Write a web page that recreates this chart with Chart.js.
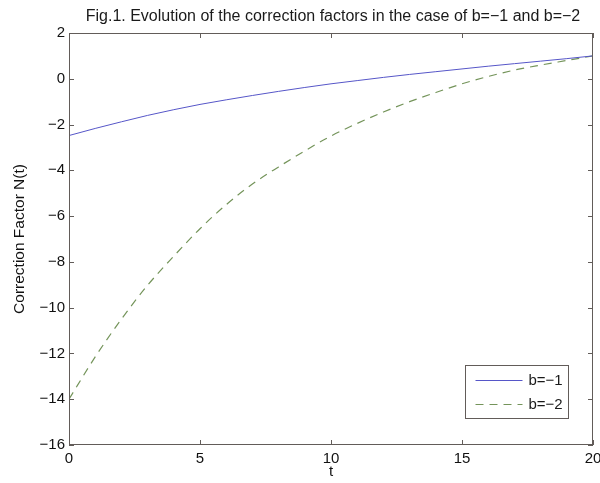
<!DOCTYPE html>
<html>
<head>
<meta charset="utf-8">
<script src="https://cdn.jsdelivr.net/npm/chart.js@4.4.1/dist/chart.umd.min.js"></script>
<style>
  html, body { margin: 0; padding: 0; background: #ffffff; }
  #wrap { width: 600px; height: 483px; }
</style>
</head>
<body>
<div id="wrap"><canvas id="c" width="600" height="483"></canvas></div>
<script>
// Time axis and correction factor N(t) for the two cases
const tValues = [0, 1, 2, 3, 4, 5, 6, 7, 8, 9, 10, 11, 12, 13, 14, 15, 16, 17, 18, 19, 20];
const factorB1 = [-2.48, -2.17, -1.88, -1.60, -1.35, -1.12, -0.92, -0.73, -0.55, -0.38, -0.22,
                  -0.08, 0.06, 0.19, 0.31, 0.43, 0.55, 0.66, 0.77, 0.88, 1.00];
const factorB2 = [-14.0, -12.15, -10.5, -9.02, -7.75, -6.55, -5.5, -4.6, -3.85, -3.15, -2.5,
                  -1.95, -1.45, -1.0, -0.6, -0.22, 0.1, 0.38, 0.6, 0.8, 1.0];
const seriesNames = ['b=\u22121', 'b=\u22122'];
const xTicks = [0, 5, 10, 15, 20];
const yTicks = [-16, -14, -12, -10, -8, -6, -4, -2, 0, 2];
const titleText = 'Fig.1. Evolution of the correction factors in the case of b=\u22121 and b=\u22122';
const xTitle = 't';
const yTitle = 'Correction Factor N(t)';

const FONT = '"Liberation Sans", Arial, Helvetica, sans-serif';
const FRAME = '#625c59';
const BLUE = '#5656c8';
const GREEN = '#74945a';

const fmt = v => (v < 0 ? '\u2212' + Math.abs(v) : String(v));
const toPoints = ys => tValues.map((t, i) => ({ x: t, y: ys[i] }));

// Box frame, inward ticks on all four sides, title and boxed legend
const frameAndLegend = {
  id: 'frameAndLegend',
  afterDatasetsDraw(chart) {
    const { ctx, chartArea: a, scales: { x, y } } = chart;
    ctx.save();
    ctx.strokeStyle = FRAME;
    ctx.lineWidth = 1;
    ctx.strokeRect(Math.round(a.left) + 0.5, Math.round(a.top) + 0.5,
                   Math.round(a.right - a.left) - 1, Math.round(a.bottom - a.top) - 1);
    ctx.beginPath();
    yTicks.forEach(v => {
      const py = Math.round(y.getPixelForValue(v)) + 0.5;
      ctx.moveTo(a.left, py); ctx.lineTo(a.left + 5, py);
      ctx.moveTo(a.right, py); ctx.lineTo(a.right - 5, py);
    });
    xTicks.forEach(v => {
      const px = Math.round(x.getPixelForValue(v)) + 0.5;
      ctx.moveTo(px, a.bottom); ctx.lineTo(px, a.bottom - 5);
      ctx.moveTo(px, a.top); ctx.lineTo(px, a.top + 5);
    });
    ctx.stroke();

    // title
    ctx.fillStyle = '#1a1a1a';
    ctx.font = '16px ' + FONT;
    ctx.textAlign = 'center';
    ctx.textBaseline = 'middle';
    ctx.fillText(titleText, (a.left + a.right) / 2 + 2, 17);

    // legend
    const bw = 103, bh = 53;
    const bx = Math.round(a.right - 25 - bw) + 0.5;
    const by = Math.round(a.bottom - 27 - bh) + 0.5;
    ctx.fillStyle = '#ffffff';
    ctx.fillRect(bx, by, bw, bh);
    ctx.strokeStyle = FRAME;
    ctx.strokeRect(bx, by, bw, bh);
    chart.data.datasets.forEach((ds, i) => {
      const ly = Math.round(by + 14 + i * 24) + 0.5;
      ctx.beginPath();
      ctx.strokeStyle = ds.borderColor;
      ctx.setLineDash(ds.borderDash || []);
      ctx.moveTo(bx + 10, ly);
      ctx.lineTo(bx + 57, ly);
      ctx.stroke();
      ctx.setLineDash([]);
      ctx.fillStyle = '#1a1a1a';
      ctx.textAlign = 'left';
      ctx.font = '15px ' + FONT;
      ctx.fillText(ds.label, bx + 63, ly);
    });
    ctx.restore();
  }
};

new Chart(document.getElementById('c'), {
  type: 'line',
  data: {
    datasets: [
      { label: seriesNames[0], data: toPoints(factorB1), borderColor: BLUE, borderWidth: 1,
        pointRadius: 0, cubicInterpolationMode: 'monotone', fill: false },
      { label: seriesNames[1], data: toPoints(factorB2), borderColor: GREEN, borderWidth: 1.2,
        borderDash: [8, 6], pointRadius: 0, cubicInterpolationMode: 'monotone', fill: false }
    ]
  },
  options: {
    responsive: false,
    devicePixelRatio: 1,
    animation: false,
    layout: { padding: { top: 33, right: 7, bottom: 0, left: 0 } },
    plugins: { legend: { display: false }, title: { display: false }, tooltip: { enabled: false } },
    scales: {
      x: {
        type: 'linear', min: 0, max: 20,
        afterBuildTicks: s => { s.ticks = xTicks.map(v => ({ value: v })); },
        afterFit: s => { s.height = 38; s.paddingLeft = 0; s.paddingRight = 0; },
        grid: { display: false, drawTicks: false },
        border: { display: false },
        ticks: { callback: fmt, color: '#111', font: { family: FONT, size: 15 }, padding: 5, maxRotation: 0 },
        title: { display: true, text: xTitle, color: '#111', font: { family: FONT, size: 15 }, padding: { top: 0, bottom: 2 } }
      },
      y: {
        type: 'linear', min: -16, max: 2,
        afterBuildTicks: s => { s.ticks = yTicks.map(v => ({ value: v })); },
        afterFit: s => { s.width = 69; s.paddingTop = 0; s.paddingBottom = 0; },
        grid: { display: false, drawTicks: false },
        border: { display: false },
        ticks: { callback: fmt, color: '#111', font: { family: FONT, size: 15 }, padding: 4 },
        title: { display: true, text: yTitle, color: '#111', font: { family: FONT, size: 15.5 }, padding: { top: 10, bottom: 0 } }
      }
    }
  },
  plugins: [frameAndLegend]
});
</script>
</body>
</html>
